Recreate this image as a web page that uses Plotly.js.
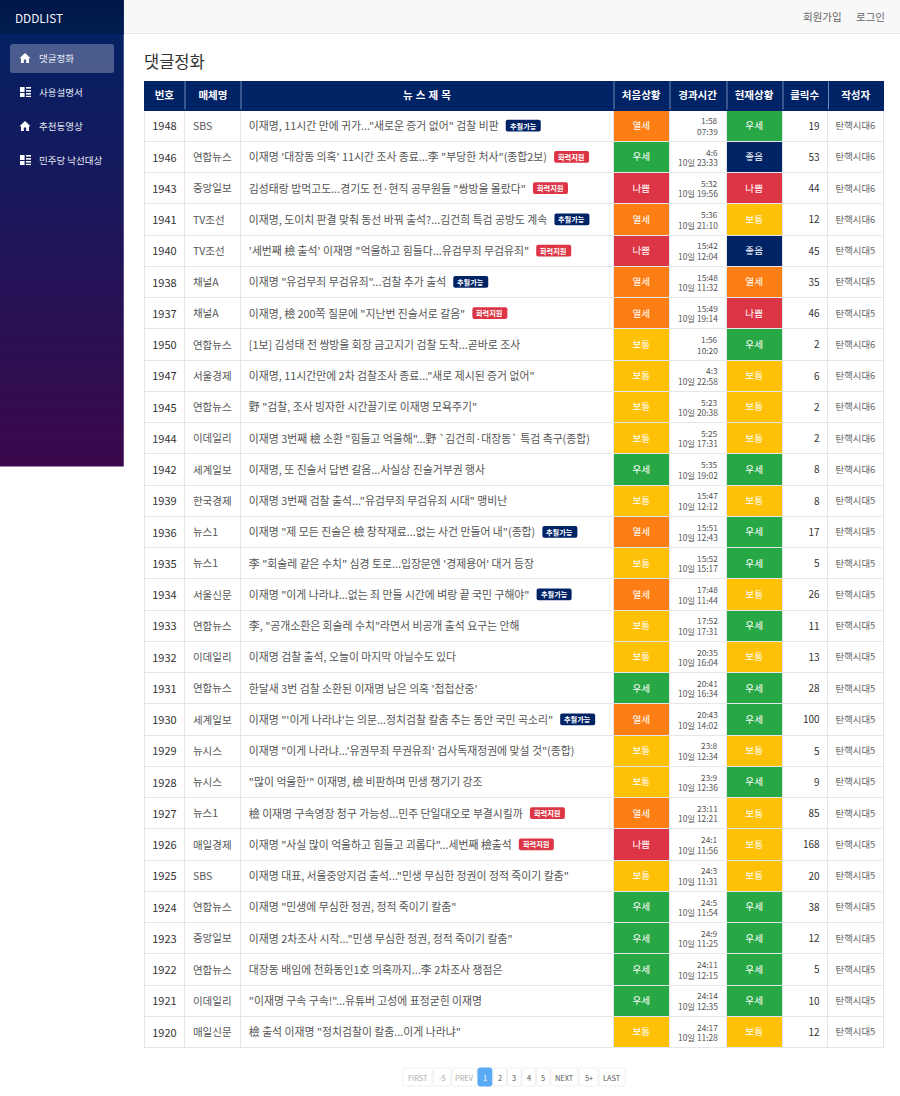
<!DOCTYPE html>
<html><head><meta charset="utf-8">
<script src="https://cdn.plot.ly/plotly-3.0.1.min.js"></script>
<style>html,body{margin:0;padding:0;background:#fff}#c{width:900px;height:1096px}
.cell-text{transform:translateY(4px)}</style>
</head><body><div id="c"></div>
<script>
const headers = ['번호','매체명','뉴 \u200a스 \u200a제 \u200a목','처음상황','경과시간','현재상황','클릭수','작성자'];
const ids = [1948,1946,1943,1941,1940,1938,1937,1950,1947,1945,1944,1942,1939,1936,1935,1934,1933,1932,1931,1930,1929,1928,1927,1926,1925,1924,1923,1922,1921,1920];
const media = ['SBS','연합뉴스','중앙일보','TV조선','TV조선','채널A','채널A','연합뉴스','서울경제','연합뉴스','이데일리','세계일보','한국경제','뉴스1','뉴스1','서울신문','연합뉴스','이데일리','연합뉴스','세계일보','뉴시스','뉴시스','뉴스1','매일경제','SBS','연합뉴스','중앙일보','연합뉴스','이데일리','매일신문'];
const titles = [
'이재명, 11시간 만에 귀가..."새로운 증거 없어" 검찰 비판',
'이재명 \'대장동 의혹\' 11시간 조사 종료...李 "부당한 처사"(종합2보)',
'김성태랑 밥먹고도...경기도 전·현직 공무원들 "쌍방울 몰랐다"',
'이재명, 도이치 판결 맞춰 동선 바꿔 출석?...김건희 특검 공방도 계속',
'\'세번째 檢 출석\' 이재명 "억울하고 힘들다...유검무죄 무검유죄"',
'이재명 "유검무죄 무검유죄"...검찰 추가 출석',
'이재명, 檢 200쪽 질문에 "지난번 진술서로 갈음"',
'[1보] 김성태 전 쌍방울 회장 금고지기 검찰 도착...곧바로 조사',
'이재명, 11시간만에 2차 검찰조사 종료..."새로 제시된 증거 없어"',
'野 "검찰, 조사 빙자한 시간끌기로 이재명 모욕주기"',
'이재명 3번째 檢 소환 "힘들고 억울해"...野 `김건희·대장동` 특검 촉구(종합)',
'이재명, 또 진술서 답변 갈음...사실상 진술거부권 행사',
'이재명 3번째 검찰 출석..."유검무죄 무검유죄 시대" 맹비난',
'이재명 "제 모든 진술은 檢 창작재료...없는 사건 만들어 내"(종합)',
'李 "회술레 같은 수치" 심경 토로...입장문엔 \'경제용어\' 대거 등장',
'이재명 "이게 나라냐...없는 죄 만들 시간에 벼랑 끝 국민 구해야"',
'李, "공개소환은 회술레 수치"라면서 비공개 출석 요구는 안해',
'이재명 검찰 출석, 오늘이 마지막 아닐수도 있다',
'한달새 3번 검찰 소환된 이재명 남은 의혹 \'첩첩산중\'',
'이재명 "\'이게 나라냐\'는 의문...정치검찰 칼춤 추는 동안 국민 곡소리"',
'이재명 "이게 나라냐...\'유권무죄 무권유죄\' 검사독재정권에 맞설 것"(종합)',
'"많이 억울한\'" 이재명, 檢 비판하며 민생 챙기기 강조',
'檢 이재명 구속영장 청구 가능성...민주 단일대오로 부결시킬까',
'이재명 "사실 많이 억울하고 힘들고 괴롭다"...세번째 檢출석',
'이재명 대표, 서울중앙지검 출석..."민생 무심한 정권이 정적 죽이기 칼춤"',
'이재명 "민생에 무심한 정권, 정적 죽이기 칼춤"',
'이재명 2차조사 시작..."민생 무심한 정권, 정적 죽이기 칼춤"',
'대장동 배임에 천화동인1호 의혹까지...李 2차조사 쟁점은',
'"이재명 구속 구속!"...유튜버 고성에 표정굳힌 이재명',
'檢 출석 이재명 "정치검찰이 칼춤...이게 나라냐"'];
const badges = ['추월가능','화력지원','화력지원','추월가능','화력지원','추월가능','화력지원','','','','','','','추월가능','','추월가능','','','','추월가능','','','화력지원','화력지원','','','','','',''];
const firstState = ['열세','우세','나쁨','열세','나쁨','열세','열세','보통','보통','보통','보통','우세','보통','열세','보통','열세','보통','보통','우세','열세','보통','보통','열세','나쁨','보통','우세','우세','우세','우세','보통'];
const elapsed = ['1:58','4:6','5:32','5:36','15:42','15:48','15:49','1:56','4:3','5:23','5:25','5:35','15:47','15:51','15:52','17:48','17:52','20:35','20:41','20:43','23:8','23:9','23:11','24:1','24:3','24:5','24:9','24:11','24:14','24:17'];
const posted = ['07:39','10일 23:33','10일 19:56','10일 21:10','10일 12:04','10일 11:32','10일 19:14','10:20','10일 22:58','10일 20:38','10일 17:31','10일 19:02','10일 12:12','10일 12:43','10일 15:17','10일 11:44','10일 17:31','10일 16:04','10일 16:34','10일 14:02','10일 12:34','10일 12:36','10일 12:21','10일 11:56','10일 11:31','10일 11:54','10일 11:25','10일 12:15','10일 12:35','10일 11:28'];
const nowState = ['우세','좋음','나쁨','보통','좋음','열세','나쁨','우세','보통','보통','보통','우세','보통','우세','우세','보통','우세','보통','우세','우세','보통','우세','보통','보통','보통','우세','우세','우세','우세','보통'];
const clicks = [19,53,44,12,45,35,46,2,6,2,2,8,8,17,5,26,11,13,28,100,5,9,85,168,20,38,12,5,10,12];
const authors = ['탄핵시대6','탄핵시대6','탄핵시대6','탄핵시대6','탄핵시대5','탄핵시대5','탄핵시대5','탄핵시대6','탄핵시대6','탄핵시대6','탄핵시대6','탄핵시대6','탄핵시대5','탄핵시대5','탄핵시대5','탄핵시대5','탄핵시대5','탄핵시대5','탄핵시대5','탄핵시대5','탄핵시대5','탄핵시대5','탄핵시대5','탄핵시대5','탄핵시대5','탄핵시대5','탄핵시대5','탄핵시대5','탄핵시대5','탄핵시대5'];
const menuItems = ['댓글정화','사용설명서','추천동영상','민주당 낙선대상'];
const menuIcons = ['home','grid','home','grid'];
const pageLabels = ['FIRST','-5','PREV','1','2','3','4','5','NEXT','5+','LAST'];

const FONT = '"Noto Sans CJK KR","Noto Sans",sans-serif';
const NAVY='#002366';
const stateColor = {'열세':'#fd7e14','우세':'#28a745','나쁨':'#dc3545','보통':'#ffc107','좋음':NAVY};
const columnEdges = [144,185,241,614,670,727,783,828.5,885];
const widths = columnEdges.slice(1).map((e,i)=>e-columnEdges[i]);
const tableTop=79, headBottom=110, visibleTop=81, rowH=31.25;
const headH=headBottom-tableTop, tableBottom=headBottom+rowH*30+3;
const BORDER='#e3e6ea';
const blank = ids.map(()=>'');
const white = ids.map(()=>'#ffffff');
const titleSize=10.85;

const table = {
  type:'table',
  domain:{x:[columnEdges[0]/900,columnEdges[8]/900],y:[1-tableBottom/1096,1-tableTop/1096]},
  columnwidth:widths,
  header:{values:headers.map(h=>'<b>'+h+'</b>'),height:headH,align:'center',
    fill:{color:NAVY},line:{color:NAVY,width:1},font:{family:FONT,size:10.5,color:'#fff'}},
  cells:{values:[ids,media,titles,firstState,blank,nowState,clicks,authors],height:rowH,
    align:['center','left','left','center','right','center','right','left'],
    fill:{color:[white,white,white,firstState.map(s=>stateColor[s]),white,nowState.map(s=>stateColor[s]),white,white]},
    line:{color:BORDER,width:1},
    font:{family:FONT,size:[11,10.5,titleSize,9.6,10,9.6,10,9.4],
      color:['#333','#555','#555','#fff','#555','#fff','#333','#666']}}
};
const anchor = {type:'scatter',x:[],y:[],xaxis:'x',yaxis:'y',hoverinfo:'skip',showlegend:false};

// ---- page furniture ----
const shapes=[], ann=[];
const rect=(x0,y0,x1,y1,c,layer)=>shapes.push({type:'rect',xref:'x',yref:'y',x0,y0,x1,y1,fillcolor:c,line:{width:0},layer:layer||'below'});
const rrect=(x0,y0,x1,y1,r,c,lineC,layer)=>shapes.push({type:'path',xref:'x',yref:'y',layer:layer||'below',fillcolor:c,
  line:lineC?{color:lineC,width:1}:{width:0},
  path:`M${x0+r},${y0} H${x1-r} Q${x1},${y0} ${x1},${y0+r} V${y1-r} Q${x1},${y1} ${x1-r},${y1} H${x0+r} Q${x0},${y1} ${x0},${y1-r} V${y0+r} Q${x0},${y0} ${x0+r},${y0} Z`});
const txt=(x,y,t,size,color,anchorX)=>ann.push({xref:'x',yref:'y',x,y,text:t,showarrow:false,borderpad:0,borderwidth:0,xanchor:anchorX||'left',yanchor:'middle',font:{family:FONT,size,color}});

// sidebar gradient
const lerp=(a,b,t)=>Math.round(a+(b-a)*t);
for(let y=0;y<466;y+=2){const t=y/466;
  rect(0,y,123.7,y+2.5,`rgb(${lerp(0,60,t)},${lerp(35,8,t)},${lerp(102,76,t)})`);}
for(let y=0;y<34;y+=2){rect(0,y,123.7,y+2.5,`rgb(0,${lerp(22,30,y/34)},${lerp(72,80,y/34)})`);}
// top bar
rect(124,0,900,33.5,'#f8f8f8');
rect(124,33,900,34,'#e7e7e7');
txt(15,17,'DDDLIST',11.8,'#f4f6fb');
txt(803,16,'회원가입',10.5,'#666');
txt(856,16,'로그인',10.5,'#666');
txt(144,61,'댓글정화',16.5,'#333');
// active menu
rrect(10,44,114,73,2.5,'rgba(255,255,255,0.27)');
menuItems.forEach((m,i)=>{
  const cy=58+34*i;
  txt(39,cy,m,9.5,'#e8ebf5');
  const x=20,y=cy-5;
  if(menuIcons[i]==='home'){
    shapes.push({type:'path',xref:'x',yref:'y',layer:'below',fillcolor:'#fff',line:{width:0},
      path:`M${x+5},${y} L${x+10.5},${y+5.2} H${x+9} V${y+10} H${x+6.2} V${y+6.4} H${x+3.8} V${y+10} H${x+1} V${y+5.2} H${x-0.5} Z`});
  } else {
    [[0,0,4.6,5],[0,6,4.6,10],[6,0,11,1.6],[6,3.1,11,4.7],[6,6,11,7.6],[6,8.8,11,10]].forEach(b=>
      rect(x+b[0],y+b[1],x+b[2],y+b[3],'#fff'));
  }
});
// white-out above the header band, header column separators
rect(143,tableTop-2,886,visibleTop,'#ffffff','above');
columnEdges.slice(1,-1).forEach(e=>
  shapes.push({type:'line',xref:'x',yref:'y',layer:'above',x0:e,x1:e,y0:visibleTop,y1:headBottom-0.5,line:{color:'#6f85b2',width:1}}));

// elapsed-time column (two tight lines) and badges
const cv=document.createElement('canvas').getContext('2d');
cv.font=titleSize+'px "Noto Sans CJK KR"';
ids.forEach((id,i)=>{
  const cy=headBottom+rowH*(i+0.5);
  txt(718,cy-5.3,elapsed[i],8.4,'#555','right');
  txt(718,cy+5.3,posted[i],8.4,'#555','right');
  if(badges[i]){
    const x=249+cv.measureText(titles[i]).width+7;
    rrect(x,cy-5.8,x+35,cy+5.8,2,badges[i]==='추월가능'?NAVY:'#dc3545',null,'above');
    txt(x+17.5,cy,'<b>'+badges[i]+'</b>',7.2,'#fff','center');
  }
});

// pagination
const pageEdges=[403,433,452,478,493,507.5,522,536.5,551,579,599,626];
pageLabels.forEach((p,i)=>{
  const x0=pageEdges[i], x1=pageEdges[i+1]-1, active=p==='1';
  rrect(x0,1068,x1,1086,2,active?'#5aa9f5':'#fff',active?'#5aa9f5':'#efefef');
  txt((x0+x1)/2,1077,p,7.4,active?'#fff':(i<3?'#aaa':'#555'),'center');
});

const layout={width:900,height:1096,margin:{l:0,r:0,t:0,b:0,pad:0},paper_bgcolor:'#fff',plot_bgcolor:'rgba(0,0,0,0)',showlegend:false,
  xaxis:{range:[0,900],domain:[0,1],visible:false,fixedrange:true},
  yaxis:{range:[1096,0],domain:[0,1],visible:false,fixedrange:true},
  shapes,annotations:ann};
Plotly.newPlot('c',[anchor,table],layout,{displayModeBar:false});
</script></body></html>
